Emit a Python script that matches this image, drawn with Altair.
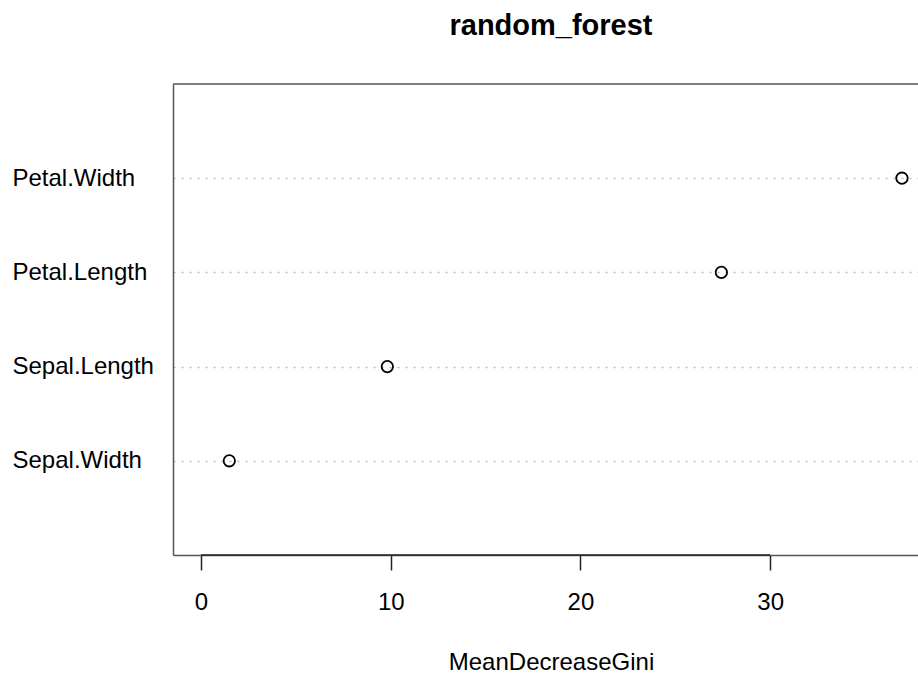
import altair as alt
import pandas as pd

# ---- data ----
features = ["Petal.Width", "Petal.Length", "Sepal.Length", "Sepal.Width"]
gini = [36.95, 27.43, 9.82, 1.49]
x_ticks = [0, 10, 20, 30]
main_title = "random_forest"
x_title = "MeanDecreaseGini"

df = pd.DataFrame({"feature": features, "gini": gini})
axis_df = pd.DataFrame({"start": [x_ticks[0]], "end": [x_ticks[-1]]})

W, H = 745, 471
FONT = "Liberation Sans"

xscale = alt.Scale(domain=[-1.478, 37.795], nice=False, zero=False)
yscale = alt.Scale(type="point", padding=1, domain=features)

x_axis = alt.Axis(
    values=x_ticks, title=x_title, grid=False,
    tickSize=15, tickColor="#222222", tickWidth=1.5,
    labelFont=FONT, labelFontSize=24, labelColor="#000000", labelPadding=20,
    domain=True, domainColor="#555555", domainWidth=1.5,
    titleFont=FONT, titleFontSize=24, titleFontWeight="normal", titleColor="#000000",
    titleX=378, titleY=114, titleBaseline="alphabetic", titleAlign="center",
)
y_axis = alt.Axis(
    title=None, ticks=False, tickSize=0,
    labelFont=FONT, labelFontSize=24, labelColor="#000000",
    labelAlign="left", labelPadding=161, labelBaseline="middle",
    domain=True, domainColor="#555555", domainWidth=1.5,
    grid=True, gridDash=[2, 6], gridColor="#bebebe", gridWidth=1.5,
)

points = alt.Chart(df).mark_point(
    shape="circle", filled=False, size=130, strokeWidth=1.8,
    color="#000000", opacity=1,
).encode(
    x=alt.X("gini:Q", scale=xscale, axis=x_axis),
    y=alt.Y("feature:N", scale=yscale, sort=features, axis=y_axis),
)

axis_seg = alt.Chart(axis_df).mark_rule(color="#222222", strokeWidth=1.5).encode(
    x=alt.X("start:Q", scale=xscale, title=x_title),
    x2="end:Q",
    y=alt.value(H),
)

top_border = alt.Chart(axis_df).mark_rule(color="#555555", strokeWidth=1.5).encode(
    x=alt.value(0), x2=alt.value(W), y=alt.value(0),
)

chart = alt.layer(top_border, points, axis_seg).properties(
    width=W, height=H,
    autosize=alt.AutoSizeParams(type="none"),
    padding={"left": 173, "top": 84, "right": 0, "bottom": 119},
    title=alt.TitleParams(
        text=main_title, font=FONT, fontSize=29, fontWeight="bold",
        color="#000000", anchor="middle", baseline="alphabetic",
        offset=19, dx=5.5,
    ),
).configure_view(strokeOpacity=0)

chart.save("out.html", embed_options={"renderer": "svg", "actions": False})
